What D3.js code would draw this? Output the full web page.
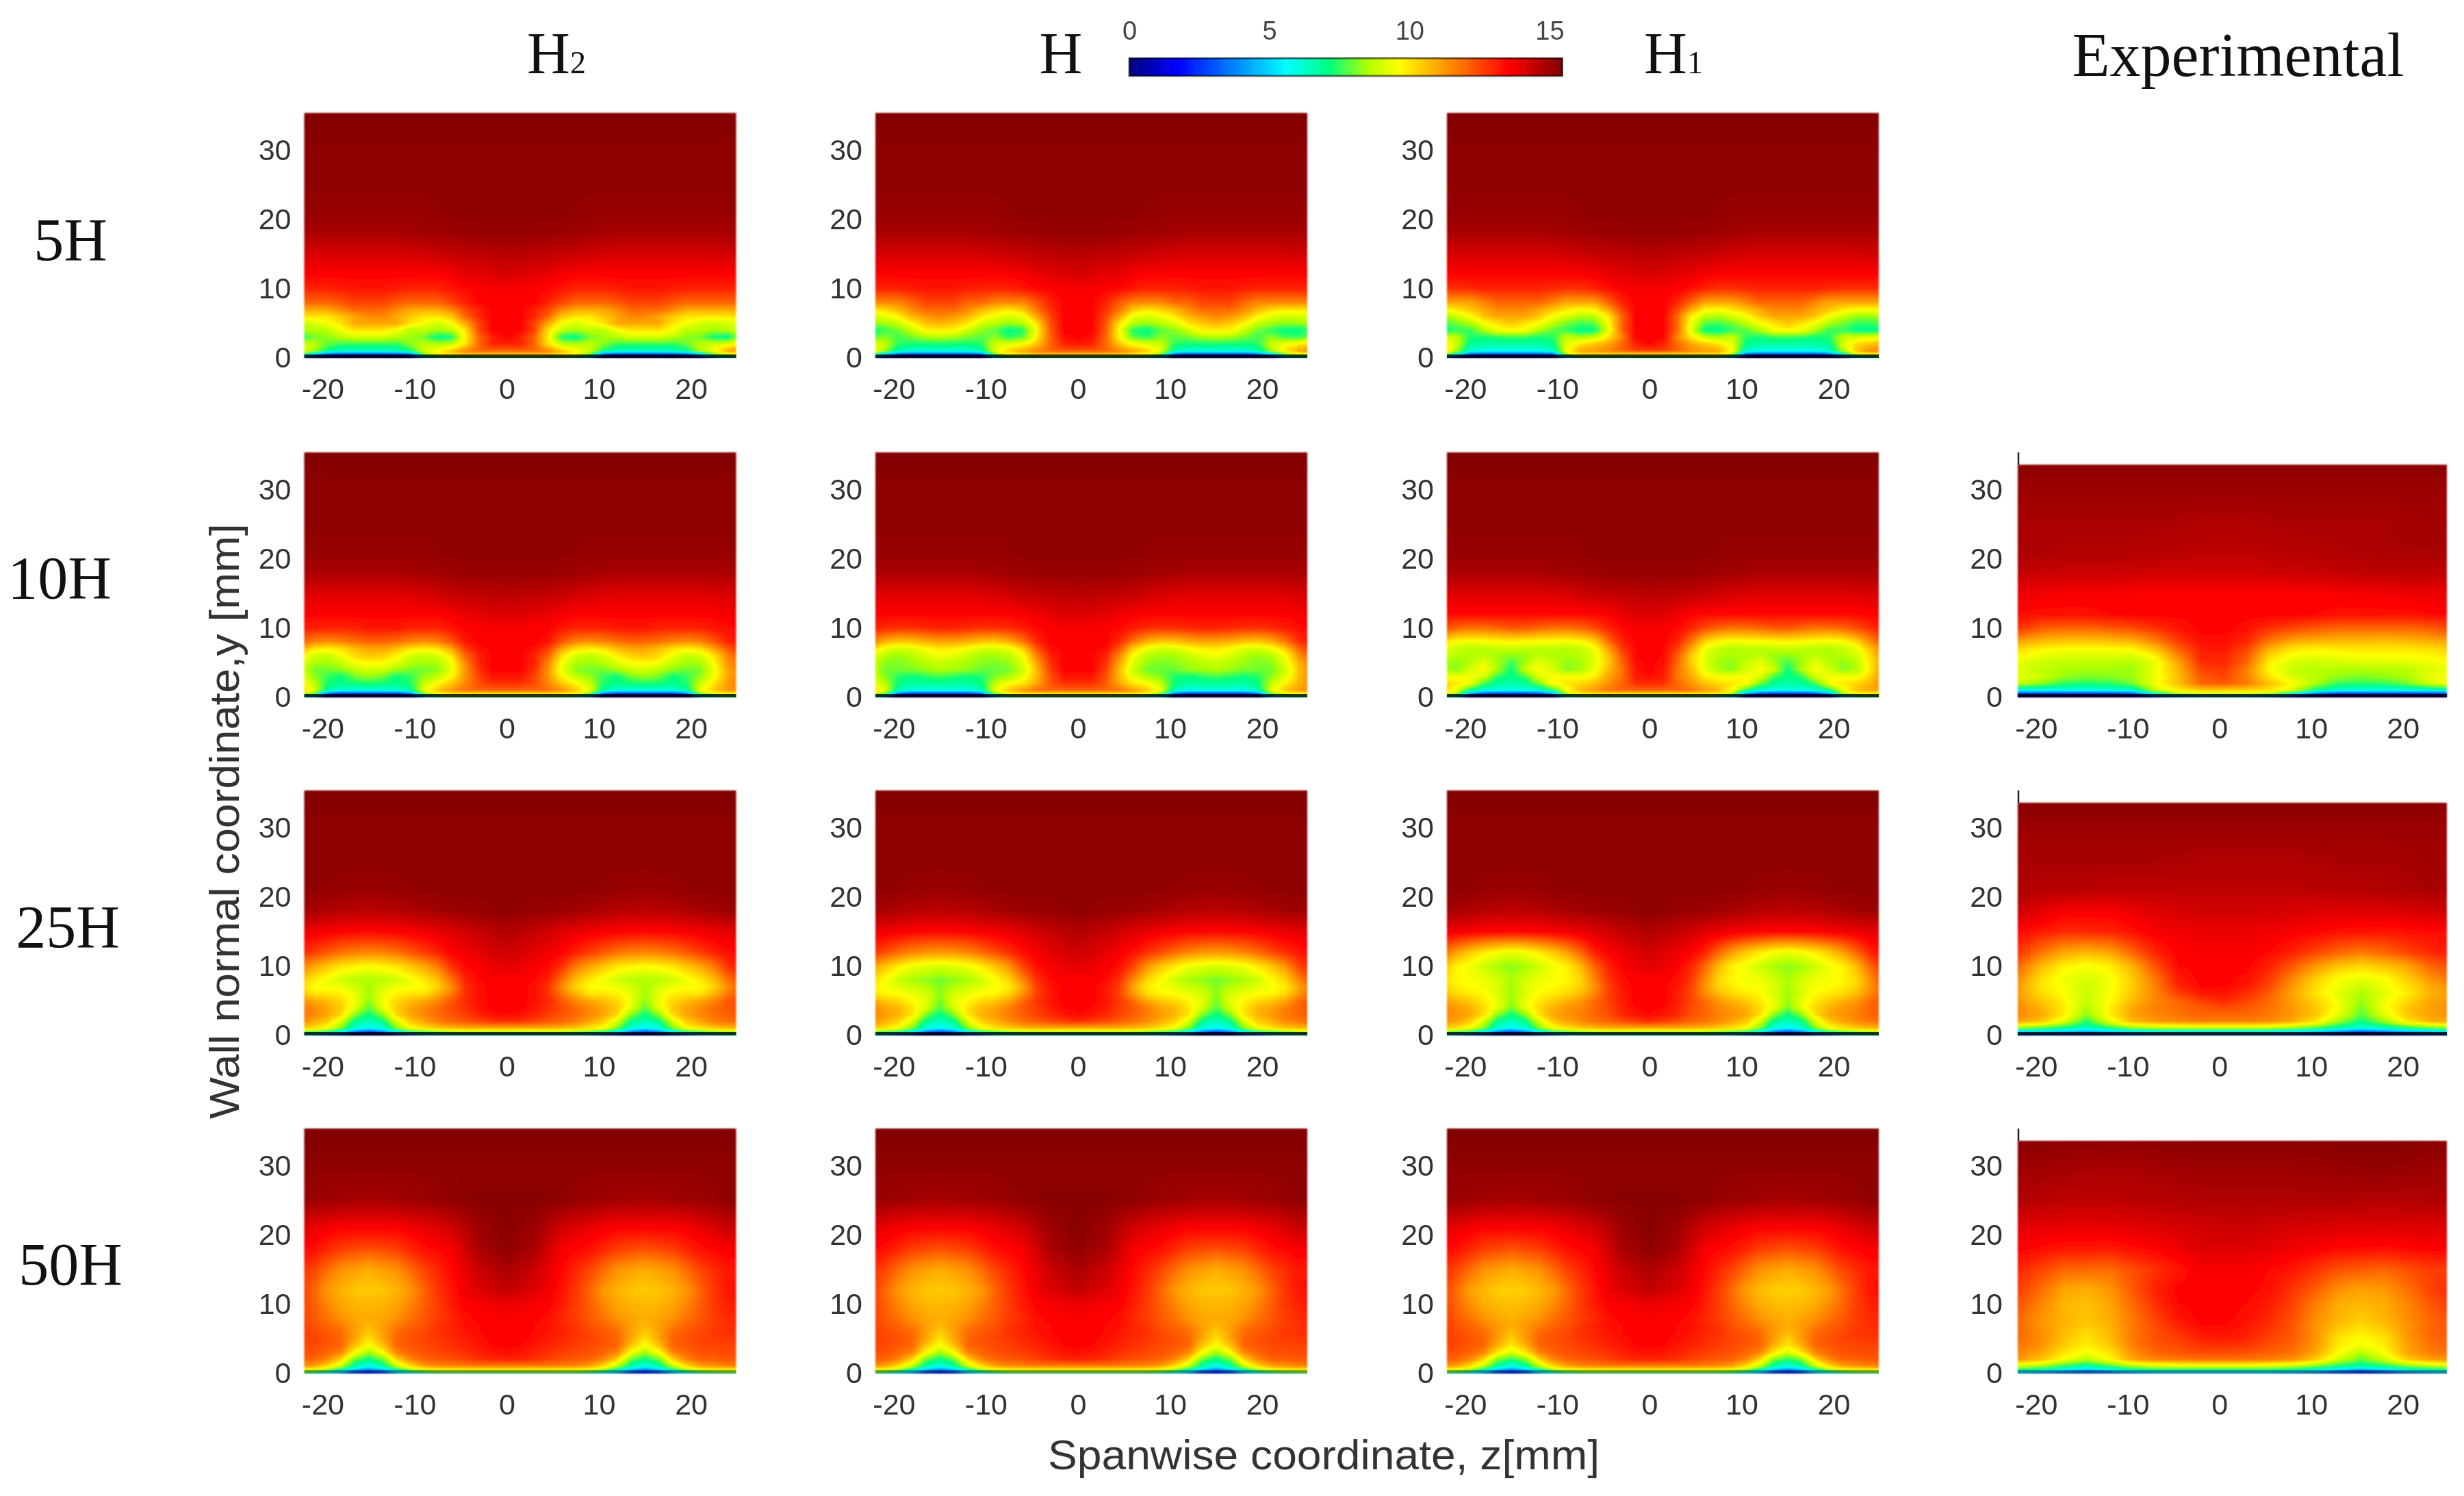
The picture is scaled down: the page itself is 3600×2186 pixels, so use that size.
<!DOCTYPE html>
<html><head><meta charset="utf-8">
<script src="https://cdn.jsdelivr.net/npm/d3@7"></script>
<style>html,body{margin:0;padding:0;background:#fff;overflow:hidden}svg{display:block}</style>
</head><body><div id="chart"></div>
<script>
// ---------- tick labels and titles
const columnTitles=[["H","2"],["H",""],["H","1"],["Experimental",""]];
const rowTitles=["5H","10H","25H","50H"];
const zTicks=[-20,-10,0,10,20], yTicks=[0,10,20,30], barTicks=[0,5,10,15];
// ---------- colour map (velocity value -> colour)
const barValues=[0,1.7,5.6,7.1,8.5,9.6,11.6,13.5,15.45];
const barColors=["#00007f","#0000ff","#00ffff","#00ff80","#b0ff00","#ffff00","#ff8000","#ff0000","#7f0000"];
// ---------- grid positions (mm)
const nearY=[12,10,8,7,6,5,4,3,2,1,0.5,0];
const farY=[35,30,25,21,18,15];
const simNearZ=[0,1.5,3,4.5,6,7.5,9,10.5,12,13.5,15,16.5,18,19.5,21,22.5,24,25.5]; // |z|, fields are mirror-symmetric
const simFarZ=[0,3,6,9,12,15,18,21,24];
const expNearZ=[-22,-19.5,-17,-14.5,-12,-9.5,-7,-4.5,-2,0.5,3,5.5,8,10.5,13,15.5,18,20.5,23,25.5];
const expFarZ=[-22,-17,-12,-7,-2,3,8,13,18,23];
// ---------- far fields (y>=15) for simulated rows
const far5H=[[15.4,15.4,15.4,15.4,15.4,15.4,15.4,15.4,15.4],[15.2,15.2,15.2,15.2,15.2,15.2,15.2,15.2,15.2],[15.2,15.2,15.2,15.2,15.2,15.2,15.2,15.2,15.2],[15.2,15.2,15.2,15.1,15.1,15.1,15.1,15.1,15.1],[15.1,15.1,15,14.9,14.8,14.8,14.8,14.8,14.8],[14.6,14.5,14.4,14.2,14.1,14.1,14.1,14.1,14.2]];
const far10H=[[15.4,15.4,15.4,15.4,15.4,15.4,15.4,15.4,15.4],[15.2,15.2,15.2,15.2,15.2,15.2,15.2,15.2,15.2],[15.2,15.2,15.2,15.2,15.2,15.2,15.2,15.2,15.2],[15.2,15.2,15.2,15.1,15.1,15.1,15.1,15.1,15.1],[15.1,15.1,15,14.9,14.8,14.8,14.8,14.8,14.8],[14.6,14.5,14.4,14.1,14,14,14,14,14.1]];
const far25H=[[15.4,15.4,15.4,15.4,15.4,15.4,15.4,15.4,15.4],[15.2,15.2,15.2,15.2,15.2,15.2,15.2,15.2,15.2],[15.2,15.2,15.2,15.2,15.2,15.2,15.2,15.2,15.2],[15.2,15.2,15.2,15.2,15.1,15,15.1,15.2,15.2],[15.2,15.1,15,14.8,14.6,14.5,14.6,14.8,15],[14.7,14.4,14,13.7,13.5,13.4,13.5,13.7,13.9]];
const far50H=[[15.4,15.4,15.4,15.4,15.4,15.4,15.4,15.4,15.4],[15.2,15.2,15.2,15.2,15.2,15.2,15.2,15.2,15.2],[15.3,15.3,15.2,15,14.9,14.8,14.9,15,15.2],[15.3,15,14.2,13.8,13.5,13.5,13.5,13.8,14.3],[15.2,14.8,13.6,13.3,12.6,12.3,12.6,13.3,13.6],[14.8,14.3,13.4,12.5,11.3,10.9,11.3,12.5,13.2]];
// ---------- near-wall fields, top row y=12 ... bottom row y=0
const u5H_H2=[
[14.1,14,13.9,13.8,13.6,13.5,13.5,13.5,13.5,13.5,13.5,13.5,13.5,13.5,13.5,13.5,13.5,13.5],
[13.6,13.6,13.5,13.4,13.2,13,13,13,13.1,13.2,13.2,13.2,13.1,13,13,13,13,13],
[13.5,13.5,13.5,13,12.5,12,12,12,12.2,12.5,12.5,12.5,12.2,12,12,12,12,12],
[13.5,13.5,13,12.5,11.5,11,11,11,11.5,12,12,12,11.5,11,11,11,11,11],
[13.5,13.5,13,12,10.5,10,10,10.5,11,11.5,11.5,11,10.5,10,10,10,10,10],
[13.5,13.5,12.5,11,9.5,9,9.5,10,11,11,11,11,10,9.5,9,8.8,9,9.5],
[13.5,13.5,12.5,10,8.7,8.4,8.7,8.6,9.5,10,10,10,9.5,8.6,8.6,8.4,8.6,9],
[13.5,13,12,9.8,7.2,6.9,8,8.4,8.6,9,9,9,8.6,8.2,8,7.1,6.9,8.6],
[13,13,12,10,8.7,8.6,8.7,8.2,7.5,7.5,7.5,7.5,7.5,7.9,8.7,9,9.2,10],
[12,12,12,11.5,10.5,9.6,9,7.2,6.4,6.3,6.3,6.3,6.4,7,8.6,9.5,11,11.5],
[10.5,10.5,10.5,10.5,10,9.5,8,3,2.5,2.5,2.5,2.5,2.5,3,5,8,9,9.5],
[7,7,7,7,7,7,5,0.5,0,0,0,0,0,0,1,4,6,6]];
const u5H_H=[
[14.1,14,13.9,13.8,13.6,13.5,13.5,13.5,13.5,13.5,13.5,13.5,13.5,13.5,13.5,13.5,13.5,13.5],
[13.6,13.6,13.5,13.4,13.2,13,13,13,13.1,13.2,13.2,13.2,13.1,13,13,13,13,13],
[13.5,13.5,13,12.2,11.5,11.5,11.5,12,12,12.5,12.5,12.5,12,11.5,11.5,11.5,11.5,11.5],
[13.5,13.5,12.8,11.8,10.5,10,10.3,10.8,11.5,12,12,12,11.5,10.8,10.2,10,10,10.2],
[13.5,13.5,12.5,11,9.3,9,9.4,10,10.8,11.2,11.5,11.2,10.8,9.8,9.2,8.9,9,9.2],
[13.5,13.5,12.3,10,8.6,8.3,8.6,9,10,10.5,10.8,10.5,9.8,8.8,8.4,8.2,8.3,8.6],
[13.5,13.5,12.2,9.6,7.3,7,7.8,8.2,8.9,9.8,9.8,9.8,8.8,8,7.5,7,7,7.6],
[13.5,13.3,12,9.8,7.8,7.4,8.2,7.8,8,8.4,8.6,8.4,8,7.6,8.2,7.6,7.5,8.4],
[13.2,13,12,10.5,9.5,9.2,8.9,7.4,7.2,7.2,7.2,7.2,7.2,7.4,8.8,9.5,9.8,10.5],
[12.2,12.2,12,11.5,11,10.3,9.2,6.7,6.1,6.1,6.1,6.1,6.1,6.5,8.5,10,11,11.5],
[10.5,10.5,10.5,10.5,10,9.5,8,3,2.5,2.5,2.5,2.5,2.5,3,5,8,9,9.5],
[7,7,7,7,7,7,5,0.5,0,0,0,0,0,0,1,4,6,6]];
const u5H_H1=[
[14.1,14,13.9,13.8,13.6,13.5,13.5,13.5,13.5,13.5,13.5,13.5,13.5,13.5,13.5,13.5,13.5,13.5],
[13.6,13.6,13.5,13.3,13,12.8,12.8,12.9,13,13,13,13,13,12.9,12.8,12.8,12.8,12.8],
[13.5,13.5,13,12,11,11,11,11.5,12,12,12,12,11.5,11,11,11,11,11],
[13.5,13.5,12.5,11,9.8,9.6,10,10.5,11,11.5,11.5,11.5,11,10.5,10,9.6,9.6,9.8],
[13.5,13.5,12,9.8,8.7,8.5,9,9.5,10.5,11,11,11,10.5,9.5,8.8,8.3,8.3,8.5],
[13.5,13.5,12,9.5,7.8,7.6,8,8.7,9.5,10,10.5,10,9.5,8.5,8,7.5,7.5,7.8],
[13.5,13.5,12,9.2,7,6.9,7.5,7.8,8.5,9.5,9.6,9.5,8.5,7.5,7.5,6.9,6.9,7.2],
[13.5,13.5,11.5,10,8.8,8.5,8.8,7.4,7.2,7.5,7.5,7.4,7.2,7.3,8.8,9,9.2,9.2],
[13.5,13,12,11,10.5,10,9.2,7,6.7,6.7,6.7,6.7,6.7,6.9,9,10.2,10.5,11],
[12.5,12.5,12,11.5,11.2,11,9.5,6.2,5.8,5.8,5.8,5.8,5.8,6.2,8.5,10.5,11.5,11.5],
[10,10,10,10,10,10,8.5,3,2.5,2.5,2.5,2.5,2.5,3,6,9,9.5,9.5],
[7,7,7,7,7,7,5,0.5,0,0,0,0,0,0,1,5,6,6]];
const u10H_H2=[
[14,14,13.9,13.8,13.6,13.5,13.5,13.5,13.5,13.5,13.5,13.5,13.5,13.5,13.5,13.5,13.7,13.8],
[13.6,13.6,13.5,13.5,13.2,13,13,13,13.2,13.2,13.2,13,13,13,13,13.2,13.3,13.5],
[13.5,13.5,13.5,13.2,12.2,11.5,11.3,11.5,11.8,12,12,11.8,11.5,11.3,11.5,12.2,13,13.2],
[13.5,13.5,13.3,12.6,11,10,9.8,10,10.6,11,11,10.6,10,9.8,10,11,12.2,12.8],
[13.5,13.5,13,12,10,9,8.7,9,9.8,10.3,10.5,10.2,9.4,8.7,9,10,11.5,12.3],
[13.5,13.5,13,11.5,9.5,8.5,8.4,8.6,9.2,9.6,9.7,9.5,8.8,8.4,8.5,9.6,11.3,12],
[13.5,13.5,12.8,11.3,9.3,8.2,8,8,8.4,8.9,9,8.7,8.2,8,8,9.3,11,11.8],
[13.2,13.2,12.5,11.3,9.7,8.7,8.3,7.5,7.1,8,8.3,8,7.1,7.5,8.3,9.5,11,11.8],
[12.8,12.8,12.4,11.5,10.5,9.7,8.8,7.3,7,7.2,7.3,7.2,7,7.3,8.8,10,11.2,11.8],
[12,12,12,11.8,11.3,10.5,9.3,6.8,6,6,6,6,6,6.8,9.3,10.5,11.3,11.5],
[10,10,10,10,10,9.5,8,3,2,2,2,2,2,3,8,9,9.5,9.5],
[7,7,7,7,7,6,4,0.5,0,0,0,0,0,0.5,4,6,7,7]];
const u10H_H=[
[14,14,13.9,13.7,13.6,13.5,13.5,13.5,13.5,13.5,13.5,13.5,13.5,13.5,13.5,13.5,13.6,13.8],
[13.6,13.6,13.5,13.4,13.1,12.9,12.8,12.8,12.9,13,13,12.9,12.8,12.8,12.9,13.1,13.3,13.5],
[13.5,13.5,13.5,12.9,11.7,10.8,10.4,10.5,10.8,11,11,10.8,10.5,10.4,10.8,11.7,12.8,13.2],
[13.5,13.5,13.3,12.2,10.3,9.3,8.9,9,9.5,9.8,9.9,9.6,9.1,8.9,9.3,10.3,12,12.8],
[13.5,13.5,13,11.5,9.5,8.6,8.4,8.4,8.8,9.2,9.5,9.1,8.6,8.3,8.6,9.5,11.3,12.3],
[13.5,13.5,12.8,11,9.2,8.3,8.1,8.2,8.4,8.6,8.8,8.6,8.3,8.1,8.2,9.2,10.8,12],
[13.5,13.5,12.6,10.7,8.8,8,7.9,7.9,8.3,8.4,8.6,8.3,8.1,8,8,8.9,10.5,11.8],
[13.2,13.2,12.3,10.7,9.2,8.5,8.1,7.3,7.1,7.4,7.6,7.4,7.1,7.4,8.2,9.2,10.6,11.8],
[12.8,12.8,12.2,11,10,9.6,8.8,7.1,6.7,6.8,6.8,6.8,6.7,7.1,8.7,9.8,10.8,11.6],
[12,12,12,11.8,11.2,10.5,9.3,6.5,5.9,5.9,5.9,5.9,5.9,6.5,9.3,10.5,11.2,11.5],
[10,10,10,10,10,9.5,8,3,2,2,2,2,2,3,8,9,9.5,9.5],
[7,7,7,7,7,6,4,0.5,0,0,0,0,0,0.5,4,6,7,7]];
const u10H_H1=[
[14,14,13.8,13.5,13.4,13.4,13.4,13.4,13.4,13.4,13.4,13.4,13.4,13.4,13.4,13.4,13.5,13.6],
[13.6,13.6,13.4,13,12.4,12,11.8,11.8,12,12.2,12.2,12,11.8,11.8,12,12.4,12.8,13.2],
[13.5,13.5,13,11.8,10.2,9.6,9.4,9.5,9.5,9.6,9.7,9.6,9.5,9.4,9.5,10.2,11.4,12.4],
[13.5,13.4,12.6,11,9.4,8.8,8.5,8.7,8.6,8.7,8.8,8.7,8.6,8.5,8.8,9.3,10.6,11.8],
[13.5,13.4,12.2,10.5,9.2,8.6,8.5,8.5,8.7,8.3,8.2,8.4,8.7,8.5,8.6,9,10.2,11.5],
[13.5,13.3,12,10.4,9.2,8.4,8.2,8.9,9.3,8.4,7.6,8.4,9.3,8.6,8.2,8.6,10,11.4],
[13.5,13.2,11.8,10.7,9.3,8.5,8.2,9,9.6,8.9,7.1,8.5,9.6,9,8.2,8.5,10,11.5],
[13.3,13.1,11.8,11,9.8,9.5,9.5,9.6,9.2,7.6,7,7.4,9,9.5,9.4,9.4,10.3,11.5],
[12.9,12.8,12,11.3,10.6,10.2,10,9.6,8,6.9,6.6,6.8,7.6,9.4,10,10.2,10.8,11.5],
[12,12,12,11.8,11.2,10.8,9.5,7.2,6,5.8,5.8,5.8,6,7,9.3,10.6,11,11.2],
[10,10,10,10,10,9.7,8.6,4,2.5,2,2,2,2.5,4,8.5,9.3,9.5,9.5],
[7,7,7,7,7,6,5,1,0,0,0,0,0,1,5,6,7,7]];
const u25H_H2=[
[14.2,14.1,13.9,13.7,13.5,13,12.6,12.2,11.8,11.6,11.5,11.6,11.8,12.2,12.6,13,13.3,13.5],
[13.9,13.8,13.6,13.4,12.8,11.7,11,10.5,10,9.8,9.6,9.8,10,10.5,11,11.7,12.8,13.2],
[13.5,13.5,13.4,13,11.8,10.6,9.9,9.4,8.9,8.6,8.5,8.6,8.9,9.4,9.9,10.6,11.8,12.5],
[13.5,13.5,13.3,12.8,11.4,10.3,9.6,9.5,9.4,9,8.4,9,9.4,9.5,9.6,10.3,11.4,12.2],
[13.5,13.5,13.3,12.8,11.7,10.8,10,10,9.8,9.3,8.4,9.3,9.8,10,10,10.8,11.7,12.3],
[13.5,13.5,13.3,12.9,12.2,11.5,11,10.6,10.2,9.4,8.2,9.4,10.2,10.6,11,11.5,12.2,12.4],
[13.5,13.5,13.2,12.8,12.4,11.9,11.4,11,10.4,9.2,7.8,9.2,10.4,11,11.4,11.9,12.2,12.4],
[13.4,13.3,13,12.6,12.2,11.9,11.5,11,10.2,8.2,7.1,8.2,10.2,11,11.5,11.8,12.1,12.2],
[12.8,12.7,12.5,12.2,12,11.6,11,10.4,9,6.9,6.4,6.9,9,10.4,11,11.6,11.8,12],
[10.8,10.8,10.8,10.8,10.6,10.4,10,9.4,8,6,5.5,6,8,9.4,10,10.4,10.6,10.8],
[8.5,8.5,8.5,8.5,8.5,8,7.5,7,5.5,3.5,2.5,3.5,5.5,7,7.5,8,8.5,8.5],
[6,6,6,6,6,6,5,3,2,0.5,0,0.5,2,3,5,6,6,6]];
const u25H_H=[
[14.2,14.1,13.9,13.6,13.3,12.8,12.4,11.9,11.5,11.3,11.2,11.3,11.5,11.9,12.4,12.8,13.2,13.4],
[13.9,13.8,13.6,13.3,12.5,11.3,10.5,9.9,9.4,9.2,9,9.2,9.4,9.9,10.5,11.3,12.5,13],
[13.5,13.5,13.4,12.8,11.5,10.2,9.6,8.9,8.4,8.2,8,8.2,8.4,8.9,9.6,10.2,11.5,12.4],
[13.5,13.5,13.2,12.6,11,9.9,9.5,9.2,8.9,8.6,8.1,8.6,8.9,9.2,9.5,9.9,11,12],
[13.5,13.5,13.2,12.5,11.3,10.2,9.7,9.6,9.3,9,8.2,9,9.3,9.6,9.7,10.2,11.3,12],
[13.5,13.5,13.2,12.7,11.9,11,10.5,10.2,9.7,9.2,8,9.2,9.7,10.2,10.5,11,11.9,12.2],
[13.5,13.4,13.1,12.6,12.2,11.6,11,10.7,10,9,7.7,9,10,10.7,11,11.6,12,12.3],
[13.4,13.2,12.9,12.5,12.1,11.7,11.2,10.8,10,8.1,7,8.1,10,10.8,11.2,11.7,12,12.2],
[12.8,12.6,12.4,12.1,11.8,11.4,10.8,10.3,9,6.9,6.3,6.9,9,10.3,10.8,11.4,11.7,11.9],
[10.8,10.8,10.8,10.8,10.6,10.4,10,9.4,8,6,5.5,6,8,9.4,10,10.4,10.6,10.8],
[8.5,8.5,8.5,8.5,8.5,8,7.5,7,5.5,3.5,2.5,3.5,5.5,7,7.5,8,8.5,8.5],
[6,6,6,6,6,6,5,3,2,0.5,0,0.5,2,3,5,6,6,6]];
const u25H_H1=[
[14.2,14,13.8,13.5,13,12,11.1,10.4,9.9,9.5,9.3,9.5,9.9,10.4,11.1,12,13,13.4],
[13.9,13.8,13.5,13,12,10.7,9.8,9.4,8.9,8.4,8.2,8.4,8.9,9.4,9.8,10.7,12,12.9],
[13.5,13.5,13.3,12.7,11.5,10.2,9.7,9.5,9.4,9,8.4,9,9.4,9.5,9.7,10.2,11.4,12.4],
[13.5,13.5,13.2,12.5,11.3,10.3,9.9,9.6,9.5,9.1,8.4,9.1,9.5,9.6,9.9,10.3,11.3,12.2],
[13.5,13.5,13.1,12.5,11.5,10.7,10.2,9.9,9.7,9.1,8.3,9.1,9.7,9.9,10.2,10.7,11.5,12.2],
[13.5,13.5,13.1,12.5,11.9,11.2,10.8,10.4,9.9,9.3,8.3,9.3,9.9,10.4,10.8,11.2,11.9,12.3],
[13.5,13.4,13,12.4,12,11.5,11.2,10.8,10.2,9.3,8,9.3,10.2,10.8,11.2,11.5,12,12.3],
[13.4,13.2,12.9,12.3,12,11.6,11.3,11,10.1,8.2,7.1,8.2,10.1,11,11.3,11.6,12,12.2],
[12.8,12.6,12.3,12,11.8,11.4,11,10.4,9,6.9,6.3,6.9,9,10.4,11,11.4,11.7,11.9],
[10.8,10.8,10.8,10.8,10.6,10.4,10,9.4,8,6,5.5,6,8,9.4,10,10.4,10.6,10.8],
[8.5,8.5,8.5,8.5,8.5,8,7.5,7,5.5,3.5,2.5,3.5,5.5,7,7.5,8,8.5,8.5],
[6,6,6,6,6,6,5,3,2,0.5,0,0.5,2,3,5,6,6,6]];
const u50H_H2=[
[14.4,14.2,14,13.7,13.2,12.7,12,11.2,10.8,10.5,10.4,10.5,10.8,11.2,12,12.7,13.2,13.4],
[13.8,13.7,13.6,13.5,13.1,12.6,12.1,11.5,11,10.8,10.7,10.8,11,11.5,12.1,12.7,13,13.3],
[13.6,13.5,13.5,13.3,12.9,12.6,12.2,11.8,11.3,11,10.9,11,11.3,11.8,12.2,12.6,12.9,13],
[13.5,13.5,13.4,13.3,13,12.7,12.3,12,11.6,11.1,10.7,11.1,11.6,12,12.3,12.6,12.8,12.9],
[13.5,13.5,13.4,13.2,13,12.8,12.4,12.2,11.9,11.1,10.4,11.1,11.9,12.2,12.4,12.7,12.8,12.8],
[13.5,13.5,13.3,13.1,12.9,12.7,12.5,12.3,12,11,10,11,12,12.3,12.5,12.6,12.7,12.7],
[13.5,13.4,13.2,13,12.8,12.6,12.4,12.2,12,10.5,9.5,10.5,12,12.2,12.4,12.5,12.5,12.5],
[13.3,13.2,13,12.8,12.6,12.4,12.3,12,11.5,9.5,8.3,9.5,11.5,12,12.3,12.3,12.4,12.4],
[13,12.9,12.8,12.5,12.3,12.2,12,11.5,10.2,7.8,7,7.8,10.2,11.5,12,12.1,12.2,12.2],
[11.5,11.5,11.5,11.5,11.4,11.3,11,10,8.6,6.6,5.8,6.6,8.6,10,11,11.2,11.4,11.5],
[9.5,9.5,9.5,9.5,9.5,9.3,9,8.3,6.5,4.5,3.5,4.5,6.5,8.3,9,9.3,9.5,9.5],
[7,7,7,7,7,7,6.5,5.5,4,2,1.5,2,4,5.5,6.5,7,7,7]];
const u50H_H=u50H_H2; // the two panels read the same
const u50H_H1=[
[14.4,14.2,14,13.7,13.2,12.6,11.9,11.1,10.7,10.4,10.3,10.4,10.7,11.1,11.9,12.6,13.2,13.4],
[13.8,13.7,13.6,13.5,13.1,12.6,12,11.4,10.9,10.7,10.6,10.7,10.9,11.4,12,12.6,13,13.3],
[13.6,13.5,13.5,13.3,12.9,12.6,12.2,11.8,11.3,11,10.8,11,11.3,11.8,12.2,12.6,12.9,13],
[13.5,13.5,13.4,13.3,13,12.7,12.3,12,11.6,11.2,10.9,11.2,11.6,12,12.3,12.6,12.8,12.9],
[13.5,13.5,13.4,13.2,13,12.8,12.4,12.2,11.9,11.2,10.7,11.2,11.9,12.2,12.4,12.7,12.8,12.8],
[13.5,13.5,13.3,13.1,12.9,12.7,12.5,12.3,12,11.2,10.3,11.2,12,12.3,12.5,12.6,12.7,12.7],
[13.5,13.4,13.2,13,12.8,12.6,12.4,12.2,12,10.8,9.9,10.8,12,12.2,12.4,12.5,12.5,12.5],
[13.3,13.2,13,12.8,12.6,12.4,12.3,12,11.5,9.9,8.9,9.9,11.5,12,12.3,12.3,12.4,12.4],
[13,12.9,12.8,12.5,12.3,12.2,12,11.5,10.2,8,7.3,8,10.2,11.5,12,12.1,12.2,12.2],
[11.5,11.5,11.5,11.5,11.4,11.3,11,10,8.6,6.6,5.8,6.6,8.6,10,11,11.2,11.4,11.5],
[9.5,9.5,9.5,9.5,9.5,9.3,9,8.3,6.5,4.5,3.5,4.5,6.5,8.3,9,9.3,9.5,9.5],
[7,7,7,7,7,7,6.5,5.5,4,2,1.5,2,4,5.5,6.5,7,7,7]];
// ---------- experimental fields
const exp10Hfar=[[15.4,15.4,15.4,15.4,15.4,15.4,15.4,15.4,15.4,15.4],[15,15,15,15,15,15,15,15,15,15],[14.8,14.8,14.8,14.8,14.7,14.7,14.8,14.8,14.8,14.9],[14.8,14.7,14.7,14.6,14.5,14.5,14.6,14.7,14.8,14.8],[14.4,14.3,14.3,14.2,14.2,14.2,14.3,14.4,14.5,14.5],[13.8,13.6,13.6,13.5,13.5,13.5,13.5,13.6,13.7,13.8]];
const exp10H=[
[13.4,13.3,13.3,13.3,13.4,13.5,13.5,13.5,13.5,13.5,13.5,13.5,13.5,13.4,13.3,13.3,13.3,13.3,13.4,13.4],
[12.8,12.2,12,12,12.2,12.4,12.8,13.2,13.5,13.5,13.3,12.8,12.5,12.2,12,12,12,12,12.2,12.5],
[11,10.6,10.4,10.4,10.5,10.7,11.5,12.6,13.3,13.3,12.9,11.6,10.9,10.7,10.6,10.6,10.5,10.6,10.8,11],
[10.2,9.8,9.6,9.6,9.6,9.7,10.6,12,13.1,13.2,12.5,10.8,10,9.8,9.9,10,10,10,10.1,10.4],
[9.7,9.3,9.1,9.1,9.1,9.1,9.8,11.5,13,13,12.2,10.2,9.5,9.3,9.4,9.6,9.6,9.6,9.7,10],
[9.3,8.9,8.7,8.7,8.7,8.5,9.3,11,12.8,12.9,12,9.8,9,8.9,9,9.1,9.1,9.2,9.4,9.6],
[9.1,8.7,8.5,8.4,8.4,8.3,9.4,10.8,12.5,12.7,11.6,9.6,8.8,8.6,8.5,8.5,8.5,8.6,9.1,9.4],
[9.4,8.9,8.3,8.1,8.2,8.4,9.3,10.6,12.2,12.5,11.6,10,9,8.6,8.3,8.1,8.3,8.5,9.3,9.6],
[8.8,8.2,7.5,7.3,7.4,8,9.5,10.6,12,12.2,11.7,10.6,9.6,8.5,7.5,7.4,7.5,8,9,9.6],
[5.8,5.8,5.8,5.8,5.9,6.2,8.8,9.8,10.3,10.3,10.2,10,9,7,6,5.9,5.9,5.9,6,6.5],
[2,2,2,2,2,2.5,6,8.5,9,9,9,8.5,6,3,2,2,2,2,2,2],
[0,0,0,0,0,0.5,2,3,4,4,4,3,1,0.5,0,0,0,0,0,0]];
const exp25Hfar=[[15.4,15.4,15.4,15.4,15.4,15.4,15.4,15.4,15.4,15.4],[15,15,15,15,15,15,15,15,15,15],[14.8,14.8,14.8,14.8,14.7,14.7,14.7,14.8,14.8,14.9],[14.7,14.6,14.5,14.5,14.5,14.5,14.5,14.6,14.7,14.8],[14.3,13.6,13.6,14,14.2,14.2,14.1,14,14,14.2],[13.4,12.9,13,13.6,13.8,13.8,13.6,13.3,13.2,13.4]];
const exp25H=[
[12.8,11.8,11,10.7,11,12,13,13.5,13.6,13.6,13.6,13.4,13,12.5,12,11.7,12,12.5,12.9,13.2],
[12,10.7,9.8,9.5,9.8,10.8,12.3,13.4,13.5,13.5,13.5,13,12.2,11.2,10.5,10.2,10.5,11,12,12.4],
[11.4,10.1,9.4,9,9.4,10.4,11.7,13.1,13.5,13.5,13.3,12.6,11.4,10.3,9.5,9.2,9.5,10.3,11.2,11.8],
[11.3,10,9.5,8.9,9.4,10.4,11.6,12.9,13.4,13.4,13.1,12.4,11.2,10.1,9.4,8.8,9.4,10,10.9,11.4],
[11.2,10.2,9.6,8.8,9.5,10.5,11.5,12.5,13.1,13.2,12.8,12.1,11,10,9.2,8.4,9.2,9.9,10.8,11.2],
[11.3,10.5,9.8,8.8,9.6,10.7,11.5,12,12.6,12.9,12.5,11.9,11.1,10.3,9.4,8.3,9.4,10.2,11,11.2],
[11.5,10.8,9.9,8.5,9.8,11,11.6,11.9,12.2,12.4,12.2,11.8,11.2,10.5,9.5,8,9.5,10.5,11.1,11.4],
[11.5,11,9.9,8.2,9.8,11,11.5,11.8,12,12,12,11.7,11.2,10.5,9.2,7.8,9.2,10.5,11.1,11.3],
[11,10.5,9.2,7.3,9.2,10.7,11.2,11.4,11.6,11.6,11.6,11.4,10.9,10,8.3,7.1,8.3,9.9,10.8,11],
[8,7.5,6.8,6.2,7,8,8.3,8.5,8.5,8.5,8.5,8.5,8,7.4,6.5,5.8,6.3,7,7.5,8],
[5,4.8,4.5,4,4.6,5,5.5,5.5,5.5,5.5,5.5,5.5,5.2,4.5,3.5,2.5,3.2,4,4.5,5],
[2,2,2,1.5,2,2.5,3,3,3,3,3,3,2.5,2,1,0.5,1,1.5,2,2]];
const exp50Hfar=[[15.4,15.4,15.4,15.4,15.4,15.4,15.4,15.4,15.4,15.4],[15,14.9,14.8,14.9,15,15,15,15.1,15.2,15],[14.7,14.5,14.5,14.6,14.7,14.7,14.7,14.7,14.6,14.7],[13.9,13.8,13.8,14,14.2,14.3,14.1,14,14,14],[13.5,13.2,13.1,13.5,14,14,13.7,13.4,13.3,13.5],[13,12,11.9,12.8,13.6,13.6,13.2,12.3,12,12.6]];
const exp50H=[
[12.6,11.9,11,10.8,11.2,12.2,13,13.5,13.5,13.5,13.5,13.3,12.7,12.1,11.3,11,11.2,11.8,12.5,13],
[12.3,11.5,10.8,10.6,11,11.9,12.8,13.4,13.5,13.5,13.4,13.1,12.5,11.6,10.9,10.7,10.9,11.5,12.2,12.7],
[12,11.3,10.8,10.5,10.9,11.7,12.5,13.2,13.5,13.5,13.3,12.9,12.3,11.4,10.8,10.4,10.8,11.4,12,12.4],
[12,11.3,10.8,10.4,10.8,11.7,12.4,13,13.4,13.4,13.2,12.8,12.2,11.3,10.6,10.2,10.6,11.3,12,12.3],
[12,11.4,10.7,10.2,10.7,11.7,12.3,12.8,13.2,13.3,13.1,12.7,12.2,11.3,10.3,9.9,10.3,11.3,12,12.3],
[11.9,11.4,10.6,10,10.6,11.7,12.3,12.6,13,13.1,12.9,12.5,12.1,11.3,10,9.6,10,11.2,11.9,12.2],
[11.8,11.3,10.4,9.8,10.4,11.6,12.2,12.4,12.7,12.8,12.7,12.3,12,11.2,9.9,9.4,9.9,11.1,11.8,12.1],
[11.6,11,10,9.4,10,11.3,12,12.2,12.4,12.4,12.3,12.1,11.8,11,9.6,8.6,9.6,11,11.6,11.9],
[11.2,10.6,9.5,8.6,9.6,11,11.5,11.7,11.8,11.8,11.8,11.6,11.3,10.4,8.9,7.8,8.9,10.4,11.1,11.3],
[8.8,8.2,7.2,6.5,7.3,8.3,8.8,9,9,9,9,8.9,8.6,7.8,7,6.6,7,7.8,8.4,8.8],
[7,6.5,5.5,4.7,5.5,6.5,7,7,7,7,7,7,6.8,6,5,4,5,6,6.5,7],
[4,3.5,3,2.5,3,3.5,4,4,4,4,4,4,3.5,3,2,1.5,2,3,3.5,4]];
// ---------- panels table, built from the arrays above
const nearFields=[[u5H_H2,u5H_H,u5H_H1,null],[u10H_H2,u10H_H,u10H_H1,exp10H],[u25H_H2,u25H_H,u25H_H1,exp25H],[u50H_H2,u50H_H,u50H_H1,exp50H]];
const simFar=[far5H,far10H,far25H,far50H];
const expFar=[null,exp10Hfar,exp25Hfar,exp50Hfar];
const expTopY=33.6;

// ---------- layout
const W=3600,H=2186;
const colLeft=[444.5,1279,2114,2948], colWidth=[631,631,631,627];
const rowBottom=[523,1019,1513,2007], panelH=358;
const wallOpacity=[0.8,0.8,0.8,0.35];
const tickColor="#333";

const svg=d3.select("#chart").append("svg").attr("width",W).attr("height",H).attr("viewBox",[0,0,W,H]);
const defs=svg.append("defs");
defs.append("filter").attr("id","soft").attr("x","-2%").attr("y","-2%").attr("width","104%").attr("height","104%")
  .append("feGaussianBlur").attr("stdDeviation",1.3);
defs.append("filter").attr("id","softText").attr("x","-10%").attr("y","-10%").attr("width","120%").attr("height","120%")
  .append("feGaussianBlur").attr("stdDeviation",0.7);

const color=d3.scaleLinear().domain(barValues).range(barColors).clamp(true);
const lut=d3.range(0,1546).map(i=>d3.rgb(color(i/100)));

function lerpAt(list,v){
  let i=d3.bisectRight(list,v)-1;
  i=Math.max(0,Math.min(list.length-2,i));
  const f=Math.max(0,Math.min(1,(v-list[i])/(list[i+1]-list[i])));
  return [i,f];
}
function sample(rows,zs,ys,z,y){
  const [i,fz]=lerpAt(zs,z), [j,fy]=lerpAt(ys,y);
  const a=rows[j][i]*(1-fz)+rows[j][i+1]*fz;
  const b=rows[j+1][i]*(1-fz)+rows[j+1][i+1]*fz;
  return a*(1-fy)+b*fy;
}
const nearYAsc=nearY.slice().reverse(), farYAsc=farY.slice().reverse();
function fieldAt(p,z,y){
  const zz=p.mirror?Math.abs(z):z;
  if(y<=12) return sample(p.near,p.nearZ,nearYAsc,zz,y);
  if(y<15){
    const a=sample(p.near,p.nearZ,nearYAsc,zz,12), b=sample(p.far,p.farZ,farYAsc,zz,15);
    return a+(b-a)*(y-12)/3;
  }
  return sample(p.far,p.farZ,farYAsc,zz,y);
}

nearFields.forEach((rowFields,r)=>{
  rowFields.forEach((field,c)=>{
    if(!field) return;
    const isExp=c===3;
    const left=colLeft[c], wid=colWidth[c], bottom=rowBottom[r];
    const x=d3.scaleLinear().domain([-22,isExp?24.8:24.9]).range([left,left+wid]);
    const y=d3.scaleLinear().domain([0,35.4]).range([bottom,bottom-panelH]);
    const yTop=isExp?expTopY:35.4;
    const p={near:field.slice().reverse(),
      far:(isExp?expFar[r]:simFar[r]).slice().reverse(),
      nearZ:isExp?expNearZ:simNearZ, farZ:isExp?expFarZ:simFarZ, mirror:!isExp};
    const g=svg.append("g");
    const pxTop=Math.round(y(yTop)), pxH=Math.round(bottom-pxTop), pxW=Math.round(wid);
    const cv=document.createElement("canvas"); cv.width=pxW; cv.height=pxH;
    const ctx=cv.getContext("2d"); const img=ctx.createImageData(pxW,pxH);
    for(let py=0;py<pxH;py++){
      const yv=y.invert(pxTop+py+0.5);
      for(let px=0;px<pxW;px++){
        const v=fieldAt(p,x.invert(left+px+0.5),yv);
        const k=lut[Math.max(0,Math.min(1545,Math.round(v*100)))];
        const o=(py*pxW+px)*4;
        img.data[o]=k.r;img.data[o+1]=k.g;img.data[o+2]=k.b;img.data[o+3]=255;
      }
    }
    ctx.putImageData(img,0,0);
    g.append("image").attr("x",left).attr("y",pxTop).attr("width",pxW).attr("height",pxH)
      .attr("preserveAspectRatio","none").attr("href",cv.toDataURL()).attr("filter","url(#soft)");
    g.append("line").attr("x1",x.range()[0]).attr("x2",x.range()[1]).attr("y1",y(0)-2.5).attr("y2",y(0)-2.5)
      .attr("stroke","#000").attr("stroke-width",5).attr("opacity",wallOpacity[r]);
    if(isExp){
      g.append("line").attr("x1",left+1).attr("x2",left+1).attr("y1",y(35.4)).attr("y2",y(yTop))
        .attr("stroke","#222").attr("stroke-width",2.5);
    }
    const xAxis=d3.axisBottom(x).tickValues(zTicks).tickFormat(String).tickSize(0).tickPadding(29);
    const yAxis=d3.axisLeft(y).tickValues(yTicks).tickFormat(String).tickSize(0).tickPadding(isExp?22:19);
    const ag=svg.append("g").attr("filter","url(#softText)");
    [ag.append("g").attr("transform",`translate(0,${bottom})`).call(xAxis),
     ag.append("g").attr("transform",`translate(${left},0)`).call(yAxis)].forEach(a=>{
      a.select(".domain").remove();
      a.selectAll("text").attr("font-family","'Liberation Sans',Arial,sans-serif").attr("font-size",43).attr("fill",tickColor);
    });
  });
});

// ---------- colour bar
const barX=d3.scaleLinear().domain([0,15]).range([1650,2264]);
const barTop=85, barH=26;
const bar=svg.append("g");
bar.selectAll("rect").data(d3.range(0,15.45,0.05)).join("rect")
  .attr("x",d=>barX(d)).attr("y",barTop).attr("width",barX(0.05)-barX(0)+0.6).attr("height",barH)
  .attr("fill",d=>color(d));
bar.append("rect").attr("x",barX(0)).attr("y",barTop).attr("width",barX(15.45)-barX(0)).attr("height",barH)
  .attr("fill","none").attr("stroke","#000").attr("stroke-opacity",0.55).attr("stroke-width",3).attr("filter","url(#softText)");
const barAxis=svg.append("g").attr("transform",`translate(0,${barTop-27})`).attr("filter","url(#softText)")
  .call(d3.axisTop(barX).tickValues(barTicks).tickFormat(String).tickSize(0).tickPadding(0));
barAxis.select(".domain").remove();
barAxis.selectAll("text").attr("font-family","'Liberation Sans',Arial,sans-serif").attr("font-size",38).attr("fill","#444");

// ---------- titles
const serif="'Liberation Serif','Times New Roman',serif", sans="'Liberation Sans',Arial,sans-serif";
const titleX=[813,1550,2445,3270];
columnTitles.forEach((t,i)=>{
  const txt=svg.append("text").attr("x",titleX[i]).attr("y",i===3?111:107).attr("text-anchor","middle")
    .attr("font-family",serif).attr("font-size",i===3?90:87).attr("fill","#111").text(t[0]);
  if(t[1]) txt.append("tspan").attr("font-size",46).text(t[1]);
});
const rowLabelX=[103,87,99,103], rowLabelY=[351,845,1355,1848];
rowTitles.forEach((t,i)=>svg.append("text").attr("x",rowLabelX[i]).attr("y",rowLabelY[i]+29).attr("text-anchor","middle")
  .attr("font-family",serif).attr("font-size",88).attr("fill","#111").text(t));
svg.append("text").attr("transform","translate(333,1200) rotate(-90)").attr("text-anchor","middle").attr("dominant-baseline","middle")
  .attr("font-family",sans).attr("font-size",62).attr("fill","#333").attr("textLength",870).attr("lengthAdjust","spacingAndGlyphs")
  .text("Wall normal coordinate,y [mm]");
svg.append("text").attr("x",1934).attr("y",2147).attr("text-anchor","middle")
  .attr("font-family",sans).attr("font-size",62).attr("fill","#333").attr("textLength",806).attr("lengthAdjust","spacingAndGlyphs")
  .text("Spanwise coordinate, z[mm]");
</script></body></html>
